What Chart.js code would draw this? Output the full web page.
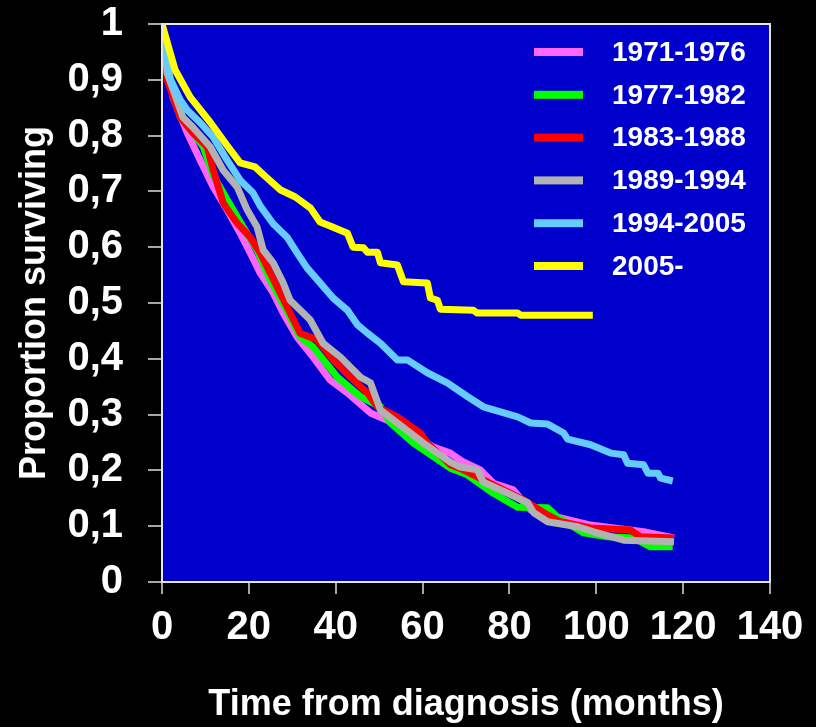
<!DOCTYPE html>
<html>
<head>
<meta charset="utf-8">
<title>Survival by period of diagnosis</title>
<style>
  html, body { margin: 0; padding: 0; background: #000; }
  #wrap { width: 816px; height: 727px; }
</style>
</head>
<body>
<div id="wrap"><canvas id="chart-survival"></canvas></div>
<script src="https://cdn.jsdelivr.net/npm/chart.js@4.4.1/dist/chart.umd.min.js"></script>
<script>
// periods of diagnosis (legend)
var periods = ["1971-1976", "1977-1982", "1983-1988", "1989-1994", "1994-2005", "2005-"];
var lineColors = ["#ff66ff", "#00ff00", "#ff0000", "#b2b2b2", "#66ccff", "#ffff00"];

// months from diagnosis / proportion surviving
var m7176 = [0, 2.5, 5.8, 8.8, 11.8, 15.0, 18.0, 20.3, 22.6, 25.6, 27.9, 31.1, 34.8, 38.7, 42.7, 48.0, 53.3, 62.5, 66.4, 69.4, 73.3, 76.3, 80.9, 84.9, 91.8, 98.7, 104.0, 110.9, 117.9];
var s7176 = [1.0, 0.869, 0.805, 0.756, 0.708, 0.667, 0.625, 0.590, 0.554, 0.518, 0.482, 0.439, 0.403, 0.362, 0.339, 0.303, 0.285, 0.242, 0.231, 0.215, 0.201, 0.177, 0.165, 0.129, 0.115, 0.102, 0.097, 0.090, 0.079];

var m7782 = [0, 0, 0.7, 4.2, 7.1, 9.5, 11.8, 15.0, 18.7, 21.9, 24.9, 28.4, 31.8, 34.8, 40.4, 45.7, 50.3, 52.6, 57.9, 66.4, 70.3, 76.3, 81.9, 88.8, 91.1, 97.1, 102.6, 108.6, 112.5, 117.6];
var s7782 = [1.0, 0.96, 0.935, 0.833, 0.805, 0.780, 0.729, 0.685, 0.636, 0.595, 0.541, 0.491, 0.439, 0.421, 0.367, 0.332, 0.314, 0.285, 0.249, 0.204, 0.192, 0.159, 0.134, 0.133, 0.116, 0.088, 0.081, 0.079, 0.063, 0.063];

var m8388 = [0, 1.2, 4.2, 7.1, 10.4, 11.8, 14.1, 17.3, 20.3, 22.6, 24.9, 27.2, 29.5, 31.8, 35.7, 39.4, 43.4, 47.3, 49.6, 54.2, 59.5, 61.1, 66.4, 69.4, 74.0, 78.6, 83.3, 87.9, 91.8, 98.7, 107.9, 110.2, 117.9];
var s8388 = [1.0, 0.900, 0.833, 0.805, 0.780, 0.738, 0.679, 0.643, 0.618, 0.590, 0.554, 0.518, 0.482, 0.446, 0.434, 0.398, 0.367, 0.339, 0.314, 0.296, 0.267, 0.249, 0.210, 0.201, 0.183, 0.165, 0.147, 0.124, 0.108, 0.097, 0.093, 0.081, 0.079];

var m8994 = [0, 1.2, 4.8, 7.1, 11.1, 14.1, 17.3, 19.6, 21.9, 23.3, 25.6, 27.9, 29.5, 34.1, 37.1, 41.1, 45.7, 48.0, 50.3, 54.2, 60.2, 66.4, 68.7, 72.6, 74.0, 79.6, 84.2, 85.6, 88.8, 95.7, 99.4, 106.3, 117.9];
var s8994 = [1.0, 0.912, 0.833, 0.815, 0.780, 0.738, 0.708, 0.667, 0.636, 0.595, 0.572, 0.536, 0.505, 0.470, 0.428, 0.403, 0.367, 0.357, 0.308, 0.285, 0.249, 0.215, 0.206, 0.201, 0.179, 0.159, 0.142, 0.124, 0.108, 0.099, 0.090, 0.075, 0.072];

var m9405 = [0, 1.8, 4.2, 5.8, 8.8, 11.8, 15.0, 18.0, 21.0, 22.6, 25.6, 28.8, 31.1, 33.4, 36.4, 39.4, 42.7, 45.0, 47.3, 50.3, 54.2, 56.5, 61.1, 65.7, 70.4, 74.0, 81.9, 84.9, 88.8, 92.5, 93.4, 98.7, 103.3, 106.3, 107.2, 110.9, 111.9, 114.2, 114.8, 117.6];
var s9405 = [1.0, 0.903, 0.864, 0.846, 0.823, 0.797, 0.756, 0.720, 0.697, 0.674, 0.642, 0.618, 0.590, 0.563, 0.536, 0.509, 0.487, 0.461, 0.446, 0.428, 0.398, 0.398, 0.375, 0.357, 0.332, 0.314, 0.296, 0.285, 0.283, 0.267, 0.256, 0.246, 0.231, 0.228, 0.213, 0.210, 0.195, 0.195, 0.186, 0.181];

var m05 = [0, 3.0, 6.5, 11.1, 15.2, 18.0, 21.4, 24.2, 27.2, 30.7, 34.2, 36.4, 38.7, 42.7, 44.0, 46.4, 47.3, 49.6, 50.3, 54.2, 55.6, 61.1, 61.8, 63.4, 64.1, 71.7, 72.6, 81.9, 82.6, 99.2];
var s05 = [1.0, 0.918, 0.869, 0.824, 0.780, 0.751, 0.744, 0.724, 0.703, 0.690, 0.670, 0.645, 0.638, 0.625, 0.600, 0.599, 0.591, 0.591, 0.572, 0.568, 0.538, 0.536, 0.509, 0.505, 0.489, 0.487, 0.482, 0.482, 0.478, 0.478];

var monthSeries = [m7176, m7782, m8388, m8994, m9405, m05];
var survSeries = [s7176, s7782, s8388, s8994, s9405, s05];

// axis ticks
var xTickStep = 20, xMax = 140;
var yTickStep = 0.1, yMax = 1;

function toPoints(ms, ss) {
    return ms.map(function (m, i) { return {x: m, y: ss[i]}; });
}

var fontFamily = "'Liberation Sans', Arial, Helvetica, sans-serif";

// blue plot area with a light frame
var plotBackground = {
    id: 'plotBackground',
    beforeDraw: function (chart) {
        var a = chart.chartArea, ctx = chart.ctx;
        ctx.save();
        ctx.fillStyle = '#0000cc';
        ctx.fillRect(a.left, a.top, a.right - a.left, a.bottom - a.top);
        ctx.restore();
    },
    afterDraw: function (chart) {
        var a = chart.chartArea, ctx = chart.ctx;
        ctx.save();
        ctx.strokeStyle = '#e6e6e6';
        ctx.lineWidth = 2;
        ctx.strokeRect(a.left, a.top, a.right - a.left, a.bottom - a.top);
        ctx.restore();
    }
};

// legend drawn inside the top right of the plot
var insideLegend = {
    id: 'insideLegend',
    afterDraw: function (chart) {
        var ctx = chart.ctx;
        ctx.save();
        ctx.font = 'bold 28px ' + fontFamily;
        ctx.textBaseline = 'middle';
        ctx.textAlign = 'left';
        chart.data.datasets.forEach(function (ds, i) {
            var y = 52 + i * 42.8;
            ctx.fillStyle = ds.borderColor;
            ctx.fillRect(534, y - 4, 49, 8);
            ctx.fillStyle = '#ffffff';
            ctx.fillText(ds.label, 612, y + 1);
        });
        ctx.restore();
    }
};

var datasets = periods.map(function (p, i) {
    return {
        label: p,
        data: toPoints(monthSeries[i], survSeries[i]),
        borderColor: lineColors[i],
        backgroundColor: lineColors[i],
        borderWidth: 7,
        pointRadius: 0,
        fill: false,
        tension: 0,
        borderJoinStyle: 'round',
        order: periods.length - i
    };
});

var chart = new Chart(document.getElementById('chart-survival'), {
    type: 'line',
    data: { datasets: datasets },
    options: {
        responsive: true,
        maintainAspectRatio: false,
        animation: false,
        layout: { padding: { top: 0, right: 46, left: 0, bottom: 0 } },
        plugins: {
            legend: { display: false },
            tooltip: { enabled: false }
        },
        scales: {
            x: {
                type: 'linear',
                min: 0,
                max: xMax,
                afterFit: function (scale) { scale.height = 145; },
                ticks: {
                    stepSize: xTickStep,
                    color: '#ffffff',
                    padding: 10,
                    maxRotation: 0,
                    font: { family: fontFamily, size: 40, weight: 'bold' }
                },
                grid: { drawOnChartArea: false, drawTicks: true, tickLength: 12, color: '#a6a6a6', lineWidth: 2 },
                border: { display: false },
                title: {
                    display: true,
                    text: 'Time from diagnosis (months)',
                    color: '#ffffff',
                    padding: { top: 0, bottom: 0 },
                    font: { family: fontFamily, size: 36, weight: 'bold' }
                }
            },
            y: {
                min: 0,
                max: yMax,
                afterFit: function (scale) {
                    scale.width = 162;
                    scale.paddingTop = 24;
                    scale.paddingBottom = 0;
                },
                ticks: {
                    stepSize: yTickStep,
                    color: '#ffffff',
                    padding: 25,
                    font: { family: fontFamily, size: 40, weight: 'bold' },
                    callback: function (v) {
                        var r = Math.round(v * 10) / 10;
                        if (r === 0 || r === 1) return String(r);
                        return r.toFixed(1).replace('.', ',');
                    }
                },
                grid: { drawOnChartArea: false, drawTicks: true, tickLength: 14, color: '#a6a6a6', lineWidth: 2 },
                border: { display: false },
                title: {
                    display: true,
                    text: 'Proportion surviving',
                    color: '#ffffff',
                    padding: { top: 13, bottom: 0 },
                    font: { family: fontFamily, size: 36, weight: 'bold' }
                }
            }
        }
    },
    plugins: [plotBackground, insideLegend]
});
</script>
</body>
</html>
